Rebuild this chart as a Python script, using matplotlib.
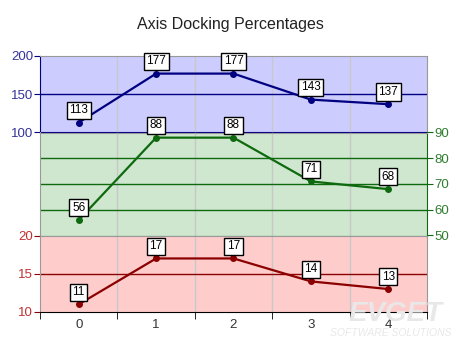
#!/usr/bin/env python3
import matplotlib

matplotlib.use("Agg")
import matplotlib.pyplot as plt

categories = [0, 1, 2, 3, 4]
top_values = [113, 177, 177, 143, 137]
mid_values = [56, 88, 88, 71, 68]
bot_values = [11, 17, 17, 14, 13]

top_ticks = [100, 150, 200]
mid_ticks = [50, 60, 70, 80, 90]
bot_ticks = [10, 15, 20]

plt.rcParams["font.family"] = ["Liberation Sans", "DejaVu Sans"]

fig = plt.figure(figsize=(4.6, 3.45), dpi=100)
left, right = 40 / 460, 427 / 460
width = right - left


def ax_box(y_top, y_bot):
    return [left, 1 - y_bot / 345, width, (y_bot - y_top) / 345]


ax_top = fig.add_axes(ax_box(56, 132.5))
ax_mid = fig.add_axes(ax_box(132.5, 235.5), sharex=ax_top)
ax_bot = fig.add_axes(ax_box(235.5, 312), sharex=ax_top)

series = [
    (ax_top, top_values, top_ticks, "#000080", "#ccccff", "#333399", "left"),
    (ax_mid, mid_values, mid_ticks, "#0f6a0f", "#cfe7cf", "#2e7d2e", "right"),
    (ax_bot, bot_values, bot_ticks, "#8b0000", "#ffcccc", "#c03030", "left"),
]

for ax, vals, ticks, line_c, bg_c, tick_c, side in series:
    ax.set_facecolor(bg_c)
    ax.set_ylim(ticks[0], ticks[-1])
    ax.set_xlim(-0.5, 4.5)
    for t in ticks[1:-1]:
        ax.axhline(t, color=line_c, lw=1, zorder=1)
    for xv in [0.5, 1.5, 2.5, 3.5]:
        ax.axvline(xv, color="#c8c8c8", lw=1, zorder=0.5)
    ax.plot(categories, vals, color=line_c, lw=1.6, marker="o", ms=4, zorder=3,
            clip_on=False)
    for xv, yv in zip(categories, vals):
        ax.annotate(str(yv), (xv, yv), xytext=(0, 4.5), textcoords="offset points",
                    ha="center", va="bottom", fontsize=8.5, zorder=5,
                    annotation_clip=False,
                    bbox=dict(boxstyle="square,pad=0.22", fc="white", ec="black", lw=1))
    ax.set_yticks(ticks)
    if side == "right":
        ax.yaxis.tick_right()
        ax.set_yticks(ticks)
    ax.tick_params(axis="y", colors=tick_c, labelsize=9.5, length=4, direction="out",
                   pad=1)
    ax.tick_params(axis="y", color=line_c)
    for sp in ax.spines.values():
        sp.set_color("#999999")
    ax.spines["bottom"].set_color(line_c)

ax_top.set_yticklabels([str(t) for t in top_ticks])
ax_mid.set_yticklabels([str(t) for t in mid_ticks])
ax_bot.set_yticklabels([str(t) for t in bot_ticks])
ax_top.spines["left"].set_color("#000080")
ax_mid.spines["right"].set_color("#0f6a0f")
ax_bot.spines["bottom"].set_color("black")

for ax in (ax_top, ax_mid):
    ax.tick_params(axis="x", which="both", bottom=False, labelbottom=False)

ax_bot.set_xticks(categories)
ax_bot.set_xticks([-0.5, 0.5, 1.5, 2.5, 3.5, 4.5], minor=True)
ax_bot.tick_params(axis="x", which="major", length=0, labelsize=9.5, colors="#333333",
                   pad=5)
ax_bot.tick_params(axis="x", which="minor", length=5, color="black")

fig.text(0.5, 1 - 25 / 345, "Axis Docking Percentages", ha="center", va="center",
         fontsize=11.5, color="#222222")

# faint watermark in the lower right corner
fig.text(0.86, 1 - 314 / 345, "EVGET", ha="center", va="center", fontsize=20,
         style="italic", weight="bold", color="#e8e8e8", zorder=0)
fig.text(0.85, 1 - 333 / 345, "SOFTWARE SOLUTIONS", ha="center", va="center",
         fontsize=7.5, style="italic", color="#e8e8e8", zorder=0)

fig.savefig("out.png", dpi=100)
